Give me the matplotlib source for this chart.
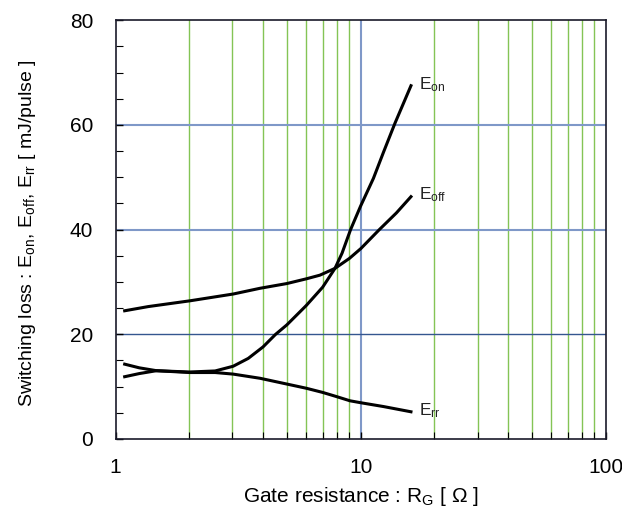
import numpy as np
import matplotlib
matplotlib.use("Agg")
import matplotlib.pyplot as plt
from matplotlib.ticker import FixedLocator, NullFormatter

plt.rcParams['font.family'] = ['Liberation Sans', 'DejaVu Sans']
plt.rcParams['mathtext.fontset'] = 'custom'
plt.rcParams['mathtext.rm'] = 'Liberation Sans'
plt.rcParams['mathtext.it'] = 'Liberation Sans'

# Data
rg_on = [1.09, 1.25, 1.47, 2.0, 2.55, 3.02, 3.48, 4.0, 4.5, 5.0, 6.0, 7.0, 7.86, 8.4, 9.1, 10.0, 11.28, 12.4, 13.8, 16.05]
e_on = [11.9, 12.5, 13.05, 12.8, 13.0, 13.9, 15.4, 17.6, 20.0, 21.8, 25.5, 29.0, 32.6, 35.5, 40.0, 44.5, 49.8, 54.8, 60.3, 67.5]

rg_off = [1.09, 1.36, 2.01, 3.02, 3.89, 5.0, 6.0, 6.82, 7.86, 9.0, 10.03, 11.92, 14.0, 16.05]
e_off = [24.5, 25.3, 26.4, 27.7, 28.8, 29.7, 30.6, 31.3, 32.6, 34.5, 36.4, 40.0, 43.2, 46.3]

rg_rr = [1.09, 1.25, 1.47, 2.01, 2.55, 3.02, 3.89, 5.0, 6.0, 7.0, 7.98, 9.05, 10.1, 12.4, 16.05]
e_rr = [14.3, 13.6, 13.05, 12.7, 12.7, 12.4, 11.6, 10.5, 9.7, 8.9, 8.1, 7.3, 6.9, 6.2, 5.2]

labels = [r'E$_{\mathregular{on}}$', r'E$_{\mathregular{off}}$', r'E$_{\mathregular{rr}}$']
xticks = [1, 10, 100]
yticks = [0, 20, 40, 60, 80]

fig = plt.figure(figsize=(6.22, 5.08), dpi=100)
ax = fig.add_axes([115.5/622, 1 - 439/508, (605.7-115.5)/622, (439-20.3)/508])

ax.set_xscale('log')
ax.set_xlim(1, 100)
ax.set_ylim(0, 80)

green = '#84c455'
for d in [1, 10]:
    for m in range(2, 10):
        ax.axvline(m*d, color=green, lw=1.0, zorder=1)
ax.axvline(10, color='#7f98c8', lw=1.5, zorder=1)
ax.axhline(20, color='#34568f', lw=1.0, zorder=1)
ax.axhline(40, color='#7f98c8', lw=1.5, zorder=1)
ax.axhline(60, color='#7f98c8', lw=1.5, zorder=1)

for xs, ys in [(rg_on, e_on), (rg_off, e_off), (rg_rr, e_rr)]:
    ax.plot(xs, ys, color='black', lw=2.2, zorder=3, solid_joinstyle='round')

ax.text(17.3, e_on[-1] + 0.3, labels[0], fontsize=12.5, va='center', ha='left', color='#222222')
ax.text(17.3, e_off[-1] + 0.3, labels[1], fontsize=12.5, va='center', ha='left', color='#222222')
ax.text(17.3, e_rr[-1] + 0.3, labels[2], fontsize=12.5, va='center', ha='left', color='#222222')

ax.xaxis.set_major_locator(FixedLocator(xticks))
ax.set_xticklabels([str(v) for v in xticks])
ax.xaxis.set_minor_locator(FixedLocator([m*d for d in [1, 10] for m in range(2, 10)]))
ax.xaxis.set_minor_formatter(NullFormatter())
ax.yaxis.set_major_locator(FixedLocator(yticks))
ax.yaxis.set_minor_locator(FixedLocator(np.arange(0, 81, 5)))

ax.tick_params(axis='both', which='major', direction='in', length=5, width=1, labelsize=15, colors='black')
ax.tick_params(axis='both', which='minor', direction='in', length=5, width=0.8)
ax.tick_params(axis='x', which='major', pad=14)
ax.tick_params(axis='y', which='major', pad=16)

for s in ax.spines.values():
    s.set_color('#1a1a2a')
    s.set_linewidth(1.2)

ax.set_xlabel(r'Gate resistance : R$_{\mathregular{G}}$ [ Ω ]', fontsize=15)
ax.set_ylabel(r'Switching loss : E$_{\mathregular{on}}$, E$_{\mathregular{off}}$, E$_{\mathregular{rr}}$ [ mJ/pulse ]',
              fontsize=14)
ax.xaxis.set_label_coords(0.5, (439 - 497) / 418.7)
ax.xaxis.label.set_va('center')
ax.yaxis.set_label_coords((28 - 115.5) / 490.2, (439 - 233) / 418.7)
ax.yaxis.label.set_va('center')

fig.savefig('out.png', dpi=100)
